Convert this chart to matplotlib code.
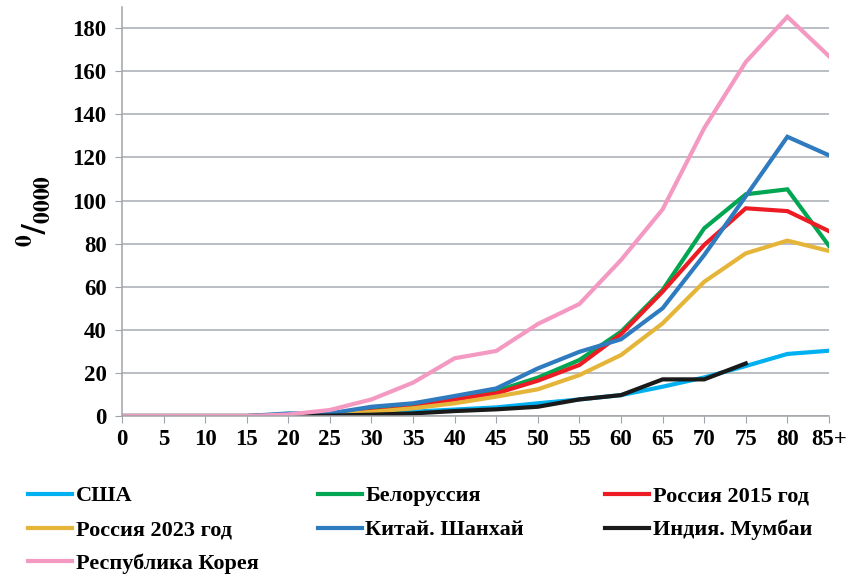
import numpy as np
import matplotlib
import matplotlib.pyplot as plt
from matplotlib.lines import Line2D

matplotlib.rcParams['font.family'] = 'Liberation Serif'
matplotlib.rcParams['font.weight'] = 'bold'
matplotlib.rcParams['mathtext.fontset'] = 'stix'

ages = ['0', '5', '10', '15', '20', '25', '30', '35', '40', '45',
        '50', '55', '60', '65', '70', '75', '80', '85+']

usa = [0, 0, 0, 0, 0.3, 0.5, 1.0, 2.0, 3.0, 4.0,
       5.9, 7.7, 9.7, 13.6, 17.9, 23.2, 28.8, 30.3]
belarus = [0, 0, 0, 0, 0.2, 0.8, 2.8, 4.3, 8.0, 11.6,
           17.8, 26.0, 39.1, 58.5, 87.1, 102.9, 105.2, 79.0]
russia2015 = [0, 0, 0, 0, 0.2, 0.7, 2.2, 4.0, 7.7, 10.5,
              16.4, 23.7, 38.0, 57.7, 79.4, 96.4, 95.1, 85.8]
russia2023 = [0, 0, 0, 0, 0.1, 0.5, 1.9, 3.6, 5.9, 9.0,
              12.4, 19.0, 28.3, 43.0, 62.3, 75.5, 81.4, 76.6]
shanghai = [0, 0, 0, 0, 1.2, 1.2, 4.3, 5.9, 9.3, 12.8,
            22.1, 29.8, 35.6, 50.0, 74.7, 102.0, 129.6, 121.0]
mumbai = [0, 0, 0, 0, 0, 0.2, 0.6, 1.2, 2.3, 3.1,
          4.3, 7.7, 9.7, 17.0, 17.0, 24.4, np.nan, np.nan]
korea = [0, 0, 0, 0, 0.7, 2.8, 7.7, 15.5, 26.8, 30.2,
         42.7, 52.0, 72.4, 95.9, 133.6, 164.3, 185.3, 167.0]

names = ['США', 'Белоруссия', 'Россия 2015 год', 'Россия 2023 год',
         'Китай. Шанхай', 'Индия. Мумбаи', 'Республика Корея']
series = [usa, belarus, russia2015, russia2023, shanghai, mumbai, korea]
colors = ['#00b0f0', '#00a651', '#ed1c24', '#e5b53a',
          '#2e7bbf', '#1a1a1a', '#f49ac2']

fig = plt.figure(figsize=(8.47, 5.75), dpi=100)
ax = fig.add_axes([0.144, 0.2765, 0.8347, 0.712])

x = np.arange(len(ages))
for vals, c in zip(series, colors):
    ax.plot(x, vals, color=c, lw=3, solid_joinstyle='miter')

ax.set_xlim(0, len(ages) - 1)
ax.set_ylim(0, 190)
ax.set_xticks(x)
ax.set_xticklabels(ages, fontsize=16.5, fontweight='bold')
ax.set_yticks(np.arange(0, 181, 20))
ax.tick_params(axis='y', labelsize=16.5, length=5, color='#a0a4a8', pad=6)
ax.tick_params(axis='x', length=5, color='#a0a4a8', pad=4)
ax.grid(axis='y', color='#a7abb0', lw=1.1)
ax.set_axisbelow(True)
for s in ['top', 'right']:
    ax.spines[s].set_visible(False)
for s in ['left', 'bottom']:
    ax.spines[s].set_color('#a0a4a8')
    ax.spines[s].set_linewidth(1.1)

ax.set_ylabel(r'$\mathbf{{}^{0}/_{0000}}$', fontsize=24, labelpad=14)

handles = [Line2D([], [], color=c, lw=3) for c in colors]
cols = [[0, 3, 6], [1, 4], [2, 5]]
xpos = [0.033, 0.375, 0.714]
for idx, xp in zip(cols, xpos):
    fig.legend([handles[i] for i in idx], [names[i] for i in idx],
               loc='upper left', bbox_to_anchor=(xp, 0.155),
               frameon=False, fontsize=16, handlelength=2.0,
               handletextpad=0.15, labelspacing=0.6,
               borderaxespad=0, borderpad=0)

fig.savefig('out.png', dpi=100)
